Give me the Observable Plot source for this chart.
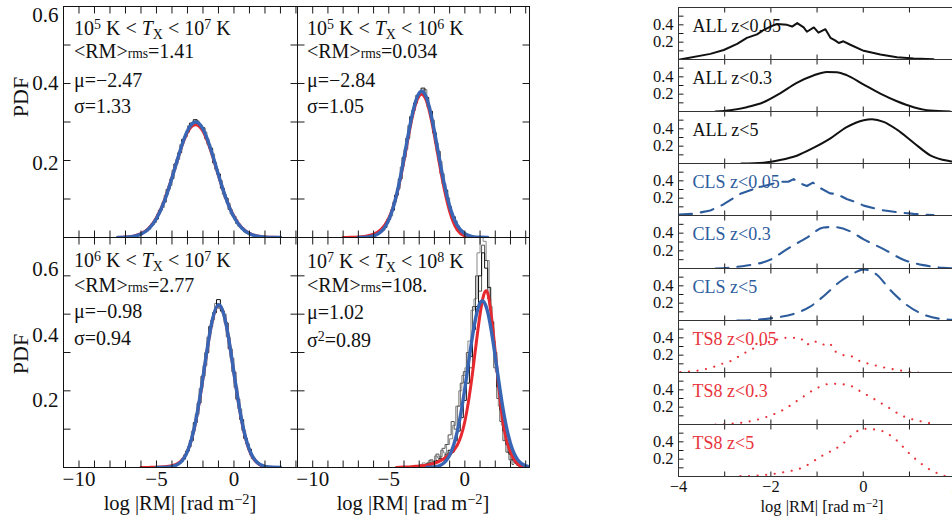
<!DOCTYPE html>
<html><head><meta charset="utf-8">
<script src="https://cdn.jsdelivr.net/npm/d3@7"></script>
<script src="https://cdn.jsdelivr.net/npm/@observablehq/plot@0.6"></script>
<style>
html,body{margin:0;padding:0;background:#fff;}
#root{position:relative;width:952px;height:520px;overflow:hidden;font-family:"Liberation Serif",serif;color:#111;background:#fff;}
#root svg{position:absolute;max-width:none;overflow:visible;background:transparent;}
.t{position:absolute;white-space:nowrap;font-size:20px;line-height:20px;}
.sup{font-size:0.7em;vertical-align:0.42em;line-height:0;}
.sub{font-size:0.7em;vertical-align:-0.25em;line-height:0;}
.rms{font-size:0.68em;line-height:0;}
</style></head><body><div id="root"></div><script>
// ---------- Left 2x2 panels: annotations ----------
const tLo = [5, 5, 6, 7];
const tHi = [7, 6, 7, 8];
const rmsVals = ["1.41", "0.034", "2.77", "108."];
const muVals = ["−2.47", "−2.84", "−0.98", "1.02"];
const sigVals = ["1.33", "1.05", "0.94", "0.89"];
const sigSquared = [false, false, false, true];

// ---------- Left panels: fitted curves (blue = Gaussian fit, red = alt. fit) ----------
const tlBlueX = [-7.5,-7,-6.5,-6,-5.5,-5,-4.5,-4,-3.5,-3,-2.5,-2,-1.5,-1,-0.5,0,0.5,1,1.5,2,2.5,3];
const tlBlueY = [0.0002,0.0009,0.0030,0.0089,0.0224,0.0491,0.0935,0.1548,0.2222,0.2770,0.2999,0.2818,0.2299,0.1628,0.1001,0.0534,0.0248,0.0100,0.0035,0.0011,0.0003,0.0001];
const tlRedX = tlBlueX;
const tlRedY = [0.0003,0.0011,0.0035,0.0098,0.0240,0.0510,0.0955,0.1560,0.2210,0.2730,0.2930,0.2760,0.2260,0.1610,0.1000,0.0545,0.0260,0.0108,0.0040,0.0013,0.0004,0.0001];

const trBlueX = [-7,-6.5,-6,-5.5,-5,-4.5,-4,-3.5,-3,-2.5,-2,-1.5,-1,-0.5,0,0.5,1,1.5];
const trBlueY = [0.0002,0.0009,0.0041,0.0154,0.0458,0.1089,0.2064,0.3119,0.3756,0.3606,0.2759,0.1683,0.0819,0.0317,0.0098,0.0024,0.0005,0.0001];
const trRedX = [-8,-7.5,-7,-6.5,-6,-5.5,-5,-4.5,-4,-3.5,-3,-2.5,-2,-1.5,-1,-0.5,0,0.5];
const trRedY = [0.0000,0.0004,0.0012,0.0035,0.0085,0.0210,0.0500,0.1080,0.2000,0.3050,0.3680,0.3520,0.2650,0.1550,0.0680,0.0200,0.0040,0.0000];

const blBlueX = [-5,-4.5,-4,-3.5,-3,-2.5,-2,-1.5,-1,-0.5,0,0.5,1,1.5,2,2.5,3];
const blBlueY = [0.0001,0.0004,0.0024,0.0117,0.0422,0.1149,0.2355,0.3642,0.4243,0.3725,0.2465,0.1230,0.0462,0.0131,0.0028,0.0005,0.0001];
const blRedX = [-6,-5.5,-5,-4.5,-4,-3.5,-3,-2.5,-2,-1.5,-1,-0.5,0,0.5,1,1.5,2,2.5];
const blRedY = [0.0000,0.0003,0.0008,0.0018,0.0045,0.0140,0.0430,0.1130,0.2330,0.3620,0.4230,0.3720,0.2450,0.1210,0.0440,0.0120,0.0020,0.0000];

const brBlueX = [-2.5,-2,-1.5,-1,-0.5,0,0.5,1,1.5,2,2.5,3,3.5,4,4.5];
const brBlueY = [0.0002,0.0016,0.0082,0.0318,0.0933,0.2059,0.3425,0.4295,0.4059,0.2891,0.1551,0.0627,0.0191,0.0044,0.0008];
const brRedX = [-4.5,-4,-3.5,-3,-2.5,-2,-1.5,-1,-0.5,0,0.5,1,1.5,2,2.5,3,3.5,4];
const brRedY = [0.000,0.001,0.002,0.004,0.006,0.011,0.020,0.034,0.058,0.120,0.245,0.400,0.455,0.300,0.120,0.040,0.008,0.001];

// ---------- Left panels: histograms (bin centres, PDF) ----------
const tlHistX = [-6,-5.75,-5.5,-5.25,-5,-4.75,-4.5,-4.25,-4,-3.75,-3.5,-3.25,-3,-2.75,-2.5,-2.25,-2,-1.75,-1.5,-1.25,-1,-0.75,-0.5,-0.25,0,0.25,0.5,0.75,1,1.25,1.5];
const tlHistY = [0.009,0.015,0.022,0.035,0.048,0.071,0.092,0.125,0.153,0.191,0.220,0.255,0.274,0.297,0.306,0.291,0.285,0.256,0.232,0.194,0.165,0.128,0.102,0.073,0.055,0.036,0.026,0.015,0.010,0.006,0.003];
const tlHist2X = [-5.875,-5.625,-5.375,-5.125,-4.875,-4.625,-4.375,-4.125,-3.875,-3.625,-3.375,-3.125,-2.875,-2.625,-2.375,-2.125,-1.875,-1.625,-1.375,-1.125,-0.875,-0.625,-0.375,-0.125,0.125,0.375,0.625,0.875,1.125,1.375];
const tlHist2Y = [0.012,0.017,0.029,0.039,0.061,0.078,0.110,0.135,0.175,0.203,0.241,0.262,0.290,0.294,0.303,0.287,0.274,0.242,0.217,0.177,0.148,0.112,0.089,0.061,0.046,0.029,0.021,0.012,0.008,0.004];
const trHistX = [-6,-5.75,-5.5,-5.25,-5,-4.75,-4.5,-4.25,-4,-3.75,-3.5,-3.25,-3,-2.75,-2.5,-2.25,-2,-1.75,-1.5,-1.25,-1,-0.75,-0.5,-0.25,0,0.25,0.5];
const trHistY = [0.004,0.009,0.016,0.026,0.047,0.071,0.110,0.152,0.208,0.258,0.314,0.349,0.372,0.388,0.364,0.328,0.272,0.224,0.166,0.123,0.080,0.054,0.030,0.019,0.009,0.005,0.002];
const trHist2X = [-5.875,-5.625,-5.375,-5.125,-4.875,-4.625,-4.375,-4.125,-3.875,-3.625,-3.375,-3.125,-2.875,-2.625,-2.375,-2.125,-1.875,-1.625,-1.375,-1.125,-0.875,-0.625,-0.375,-0.125,0.125,0.375];
const trHist2Y = [0.006,0.012,0.019,0.037,0.056,0.092,0.127,0.183,0.229,0.291,0.330,0.369,0.377,0.384,0.340,0.305,0.245,0.198,0.140,0.103,0.063,0.043,0.022,0.014,0.006,0.003];
const blHistX = [-4.5,-4.25,-4,-3.75,-3.5,-3.25,-3,-2.75,-2.5,-2.25,-2,-1.75,-1.5,-1.25,-1,-0.75,-0.5,-0.25,0,0.25,0.5,0.75,1,1.25,1.5,1.75,2];
const blHistY = [0.0004,0.001,0.0025,0.006,0.012,0.022,0.043,0.070,0.117,0.168,0.238,0.300,0.368,0.404,0.438,0.408,0.377,0.310,0.249,0.178,0.125,0.076,0.048,0.024,0.014,0.006,0.003];
const blHist2X = [-4.375,-4.125,-3.875,-3.625,-3.375,-3.125,-2.875,-2.625,-2.375,-2.125,-1.875,-1.625,-1.375,-1.125,-0.875,-0.625,-0.375,-0.125,0.125,0.375,0.625,0.875,1.125,1.375,1.625,1.875];
const blHist2Y = [0.0006,0.0018,0.0035,0.009,0.016,0.033,0.054,0.095,0.139,0.206,0.266,0.340,0.385,0.428,0.415,0.400,0.341,0.285,0.209,0.153,0.097,0.062,0.033,0.019,0.009,0.004];
const brHistAX = [-3,-2.8,-2.6,-2.4,-2.2,-2,-1.8,-1.6,-1.4,-1.2,-1,-0.8,-0.6,-0.4,-0.2,0,0.2,0.4,0.6,0.8,1,1.2,1.4,1.6,1.8,2,2.2,2.4,2.6,2.8,3,3.2,3.4,3.6];
const brHistAY = [0.004,0.006,0.005,0.009,0.012,0.010,0.018,0.024,0.020,0.035,0.045,0.040,0.070,0.095,0.130,0.175,0.220,0.290,0.360,0.420,0.500,0.560,0.520,0.470,0.380,0.300,0.210,0.150,0.095,0.060,0.035,0.020,0.010,0.004];
const brHistBX = [-2.9,-2.7,-2.5,-2.3,-2.1,-1.9,-1.7,-1.5,-1.3,-1.1,-0.9,-0.7,-0.5,-0.3,-0.1,0.1,0.3,0.5,0.7,0.9,1.1,1.3,1.5,1.7,1.9,2.1,2.3,2.5,2.7,2.9,3.1,3.3,3.5];
const brHistBY = [0.008,0.012,0.010,0.018,0.015,0.030,0.025,0.045,0.038,0.060,0.075,0.110,0.160,0.200,0.240,0.260,0.330,0.410,0.440,0.560,0.600,0.590,0.540,0.420,0.330,0.250,0.160,0.110,0.070,0.040,0.020,0.012,0.005];
const brHistCX = [-2.6,-2.4,-2.2,-2,-1.8,-1.6,-1.4,-1.2,-1,-0.8,-0.6,-0.4,-0.2,0,0.2,0.4,0.6,0.8,1,1.2,1.4,1.6,1.8,2,2.2,2.4,2.6,2.8,3,3.2];
const brHistCY = [0.003,0.012,0.020,0.015,0.035,0.028,0.050,0.060,0.085,0.120,0.100,0.160,0.220,0.250,0.300,0.260,0.420,0.500,0.460,0.580,0.540,0.440,0.360,0.260,0.180,0.120,0.070,0.040,0.020,0.008];

// tick labels / tick positions
const xTickLabelsL = [-10, -5, 0];
const xMinorL = [-10,-9,-8,-7,-6,-5,-4,-3,-2,-1,0,1,2,3,4];
const yMinor = [0.1, 0.2, 0.3, 0.4, 0.5];
const yTickLabelsL = [0.2, 0.4, 0.6];

// ---------- Right column: redshift-binned PDFs ----------
const rLabels = ["ALL z<0.05","ALL z<0.3","ALL z<5","CLS z<0.05","CLS z<0.3","CLS z<5","TS8 z<0.05","TS8 z<0.3","TS8 z<5"];
const allZ005 = [[-3.97,0],[-3.31,0.065],[-3.02,0.11],[-2.73,0.18],[-2.52,0.25],[-2.30,0.29],[-2.16,0.34],[-2.01,0.38],[-1.87,0.41],[-1.65,0.40],[-1.54,0.38],[-1.43,0.42],[-1.29,0.37],[-1.22,0.32],[-1.07,0.37],[-0.97,0.31],[-0.82,0.35],[-0.71,0.25],[-0.61,0.22],[-0.53,0.19],[-0.43,0.21],[-0.28,0.17],[0.01,0.10],[0.37,0.057],[0.73,0.027],[1.09,0.011],[1.52,0.004]];
const allZ03 = [[-3.20,0],[-2.88,0.015],[-2.52,0.05],[-2.16,0.107],[-1.80,0.21],[-1.44,0.33],[-1.08,0.415],[-0.79,0.457],[-0.58,0.453],[-0.36,0.42],[0.01,0.31],[0.37,0.206],[0.73,0.118],[1.09,0.05],[1.45,0.011],[1.88,0]];
const allZ5 = [[-2.64,0],[-2.16,0.01],[-1.80,0.04],[-1.44,0.09],[-1.08,0.18],[-0.71,0.29],[-0.36,0.42],[0.01,0.50],[0.19,0.51],[0.44,0.48],[0.73,0.39],[1.09,0.24],[1.45,0.095],[1.88,0.027],[2.3,0.005]];
const clsZ005 = [[-3.99,0.01],[-3.67,0.02],[-3.31,0.057],[-3.02,0.13],[-2.66,0.25],[-2.30,0.32],[-2.08,0.35],[-1.80,0.39],[-1.62,0.39],[-1.51,0.42],[-1.36,0.37],[-1.22,0.34],[-1.09,0.38],[-0.94,0.32],[-0.72,0.255],[-0.58,0.25],[-0.36,0.19],[-0.14,0.15],[0.01,0.114],[0.37,0.065],[0.73,0.038],[1.09,0.019],[1.52,0.004]];
const clsZ03 = [[-3.2,0],[-2.88,0.011],[-2.52,0.034],[-2.01,0.10],[-1.65,0.22],[-1.22,0.35],[-0.86,0.465],[-0.64,0.47],[-0.28,0.42],[0.01,0.33],[0.44,0.22],[0.87,0.10],[1.30,0.038],[1.73,0.008],[2.2,0]];
const clsZ5 = [[-2.73,0],[-2.30,0.008],[-1.94,0.03],[-1.51,0.076],[-1.15,0.16],[-0.86,0.28],[-0.50,0.45],[-0.21,0.545],[0.01,0.59],[0.30,0.525],[0.58,0.354],[0.94,0.18],[1.30,0.07],[1.73,0.015],[2.2,0.002]];
const ts8Z005 = [[-3.96,0.004],[-3.6,0.02],[-3.31,0.05],[-3.09,0.095],[-2.88,0.13],[-2.52,0.24],[-2.16,0.335],[-1.73,0.40],[-1.36,0.40],[-1.22,0.32],[-1.07,0.365],[-0.89,0.32],[-0.71,0.335],[-0.64,0.25],[-0.43,0.20],[-0.28,0.195],[-0.07,0.13],[0.15,0.095],[0.51,0.05],[0.94,0.011],[1.20,0]];
const ts8Z03 = [[-3.2,0],[-2.88,0.008],[-2.52,0.03],[-2.16,0.076],[-1.73,0.17],[-1.36,0.30],[-1.00,0.42],[-0.71,0.47],[-0.36,0.46],[0.01,0.36],[0.44,0.23],[0.87,0.095],[1.30,0.03],[1.59,0]];
const ts8Z5 = [[-2.66,0.004],[-2.19,0.015],[-1.76,0.046],[-1.33,0.10],[-0.90,0.236],[-0.46,0.37],[-0.14,0.52],[0.01,0.55],[0.30,0.54],[0.66,0.446],[1.02,0.255],[1.38,0.10],[1.77,0.004]];
const rSeries = [allZ005, allZ03, allZ5, clsZ005, clsZ03, clsZ5, ts8Z005, ts8Z03, ts8Z5];
const xTickLabelsR = [-4, -2, 0, 2];
const xMinorR = [-3, -2, -1, 0, 1, 2];
const yTickLabelsR = [0.2, 0.4];

// ---------- styling ----------
const BLUE = "#3866b5", RED = "#e6282f";
const CLS_C = "#2d5c9d", TS8_C = "#e8333b";
const fmtInt = d => String(d).replace("-", "−");
const root = document.getElementById("root");
const zip = (xs, ys) => xs.map((x, i) => ({x, y: ys[i]}));
function put(el, left, top) { el.style.left = left + "px"; el.style.top = top + "px"; root.appendChild(el); }
function html(content, left, top, extraStyle) {
  const d = document.createElement("div");
  d.className = "t"; d.innerHTML = content;
  if (extraStyle) d.setAttribute("style", extraStyle);
  put(d, left, top); return d;
}
// inward tick marks drawn as short links; lengths given in pixels, converted via panel size
function innerTicks(dom, W, H, xs, ys, tickPx, yTop, sides) {
  const ly = tickPx * yTop / H, lx = tickPx * (dom[1] - dom[0]) / W;
  const segs = [];
  xs.forEach(v => { segs.push({x1: v, x2: v, y1: 0, y2: ly}); segs.push({x1: v, x2: v, y1: yTop - ly, y2: yTop}); });
  ys.forEach(v => {
    segs.push({x1: dom[0], x2: dom[0] + lx, y1: v, y2: v});
    if (sides) segs.push({x1: dom[1] - lx, x2: dom[1], y1: v, y2: v});
  });
  return Plot.link(segs, {x1: "x1", y1: "y1", x2: "x2", y2: "y2", stroke: "#1a1a1a", strokeWidth: 1});
}

const panels = [
  {svgL: 0, svgT: 0, mL: 63, mT: 6, mB: 0, W: 234, H: 231, dom: [-11, 4.1], blue: zip(tlBlueX, tlBlueY), red: zip(tlRedX, tlRedY), hists: [[zip(tlHist2X, tlHist2Y), "#7a7a7a"], [zip(tlHistX, tlHistY), "#111"]], yLab: [3, 0, 9], xAxis: false, tx: 74, tt: [18, 41, 70, 96]},
  {svgL: 297, svgT: 0, mL: 0, mT: 6, mB: 0, W: 232, H: 231, dom: [-11, 4.25], blue: zip(trBlueX, trBlueY), red: zip(trRedX, trRedY), hists: [[zip(trHist2X, trHist2Y), "#7a7a7a"], [zip(trHistX, trHistY), "#111"]], yLab: null, xAxis: false, tx: 307, tt: [18, 41, 70, 96]},
  {svgL: 0, svgT: 237, mL: 63, mT: 0, mB: 53, W: 234, H: 230, dom: [-11, 4.1], blue: zip(blBlueX, blBlueY), red: zip(blRedX, blRedY), hists: [[zip(blHist2X, blHist2Y), "#7a7a7a"], [zip(blHistX, blHistY), "#111"]], yLab: [9, 21, 32], xAxis: true, tx: 74, tt: [250, 275, 301, 328]},
  {svgL: 297, svgT: 237, mL: 0, mT: 0, mB: 53, W: 232, H: 230, dom: [-11, 4.25], blue: zip(brBlueX, brBlueY), red: zip(brRedX, brRedY), hists: [[zip(brHistBX, brHistBY), "#8a8a8a"], [zip(brHistCX, brHistCY), "#555"], [zip(brHistAX, brHistAY), "#111"]], yLab: null, xAxis: true, tx: 307, tt: [251, 275, 302, 330]}
];

panels.forEach((p, k) => {
  const marks = [];
  p.hists.forEach(([h, c]) => marks.push(Plot.line(h, {x: "x", y: "y", curve: "step", stroke: c, strokeWidth: 1, clip: true})));
  marks.push(Plot.line(p.red, {x: "x", y: "y", curve: "natural", stroke: RED, strokeWidth: 3, clip: true}));
  marks.push(Plot.line(p.blue, {x: "x", y: "y", curve: "natural", stroke: BLUE, strokeWidth: 3.4, clip: true}));
  marks.push(innerTicks(p.dom, p.W, p.H, xMinorL, yMinor, 7, 0.6, true));
  marks.push(Plot.frame({stroke: "#111"}));
  if (p.yLab) {
    yTickLabelsL.forEach((v, i) => marks.push(Plot.text([v], {y: d => d, frameAnchor: "left", lineAnchor: "middle", dx: -5, dy: p.yLab[i], textAnchor: "end", text: d => d.toFixed(1), fill: "#111"})));
  }
  const svg = Plot.plot({
    width: p.mL + p.W, height: p.mT + p.H + p.mB,
    marginLeft: p.mL, marginRight: 0, marginTop: p.mT, marginBottom: p.mB,
    x: {domain: p.dom, axis: p.xAxis ? "bottom" : null, ticks: xTickLabelsL, tickSize: 0, tickPadding: 4, tickFormat: fmtInt, label: null},
    y: {domain: [0, 0.6], axis: null},
    style: {fontFamily: "Liberation Serif, serif", fontSize: "21px", color: "#111", background: "transparent"},
    marks
  });
  put(svg, p.svgL, p.svgT);
  const sig = sigSquared[k] ? `σ<span class="sup">2</span>` : "σ";
  html(`10<span class="sup">${tLo[k]}</span> K &lt; <i>T</i><span class="sub">X</span> &lt; 10<span class="sup">${tHi[k]}</span> K`, p.tx, p.tt[0]);
  html(`&lt;RM&gt;<span class="rms">rms</span>=${rmsVals[k]}`, p.tx, p.tt[1]);
  html(`μ=${muVals[k]}`, p.tx, p.tt[2]);
  html(`${sig}=${sigVals[k]}`, p.tx, p.tt[3]);
});

// PDF labels and x-axis titles for left block
const pdfStyle = "position:absolute;font-size:22px;line-height:22px;white-space:nowrap;transform:translate(-50%,-50%) rotate(-90deg);";
put(html("PDF", 0, 0, pdfStyle), 21, 97);
put(html("PDF", 0, 0, pdfStyle), 21, 354);
const titleHTML = `log |RM| [rad m<span class="sup">−2</span>]`;
[180, 413].forEach(cx => {
  const d = html(titleHTML, 0, 0, "position:absolute;font-size:20.5px;line-height:14px;white-space:nowrap;transform:translateX(-50%);");
  put(d, cx, 496);
});

// ---------- right column ----------
const rStyles = [
  {stroke: "#111", dash: null, curve: "linear", color: "#111"},
  {stroke: "#111", dash: null, curve: "monotone-x", color: "#111"},
  {stroke: "#111", dash: null, curve: "monotone-x", color: "#111"},
  {stroke: CLS_C, dash: "13,9", curve: "linear", color: CLS_C},
  {stroke: CLS_C, dash: "13,9", curve: "monotone-x", color: CLS_C},
  {stroke: CLS_C, dash: "13,9", curve: "monotone-x", color: CLS_C},
  {stroke: TS8_C, dash: "0.1,8.5", curve: "linear", color: TS8_C},
  {stroke: TS8_C, dash: "0.1,8.5", curve: "monotone-x", color: TS8_C},
  {stroke: TS8_C, dash: "0.1,8.5", curve: "monotone-x", color: TS8_C}
];
const rTop = i => Math.round(7 + i * 52.11);
const RW = 291, RML = 48, RDOM = [-4, 2.3];
rSeries.forEach((s, i) => {
  const top = rTop(i), h = rTop(i + 1) - top;
  const last = i === rSeries.length - 1;
  const mb = last ? 44 : 0;
  const st = rStyles[i];
  const svg = Plot.plot({
    width: RML + RW, height: h + mb,
    marginLeft: RML, marginRight: 0, marginTop: 0, marginBottom: mb,
    x: {domain: RDOM, axis: last ? "bottom" : null, ticks: xTickLabelsR, tickSize: 0, tickPadding: 4, tickFormat: fmtInt, label: null},
    y: {domain: [0, 0.6], axis: "left", ticks: yTickLabelsR, tickSize: 0, tickPadding: 5, tickFormat: d => d.toFixed(1), label: null},
    style: {fontFamily: "Liberation Serif, serif", fontSize: "16.5px", color: "#111", background: "transparent"},
    marks: [
      Plot.line(s, {x: d => d[0], y: d => d[1], stroke: st.stroke, strokeWidth: st.dash ? 2.1 : 2, strokeDasharray: st.dash, strokeLinecap: "round", curve: st.curve, clip: true}),
      innerTicks(RDOM, RW, h, xMinorR, yMinor, 5, 0.6, false),
      Plot.frame({stroke: "#333"}),
      Plot.text([rLabels[i]], {frameAnchor: "top-left", lineAnchor: "middle", dx: 14, dy: 19, textAnchor: "start", fill: st.color, fontSize: 18})
    ]
  });
  put(svg, 630, top);
});
put(html(titleHTML, 0, 0, "position:absolute;font-size:16.5px;line-height:12px;white-space:nowrap;transform:translateX(-50%);"), 822, 501);
</script></body></html>
